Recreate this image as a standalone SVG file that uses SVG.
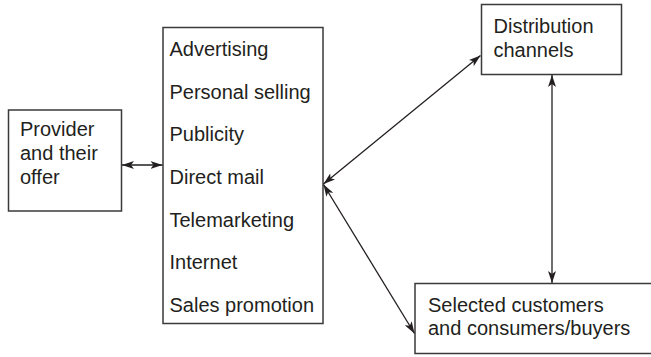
<svg xmlns="http://www.w3.org/2000/svg" width="651" height="357" viewBox="0 0 651 357">
  <style>
    .box { fill: #ffffff; stroke: #3a3a3a; stroke-width: 1.5; }
    .lbl { font-family: "Liberation Sans", Arial, sans-serif; font-size: 20px; fill: #231f20; }
    .conn { stroke: #231f20; stroke-width: 1.3; fill: none; marker-start: url(#ah); marker-end: url(#ah); }
  </style>
  <defs>
    <marker id="ah" viewBox="0 0 12 8" refX="12" refY="4" markerWidth="12" markerHeight="8" markerUnits="userSpaceOnUse" orient="auto-start-reverse">
      <path d="M0,0 L12,4 L0,8 L3,4 Z" fill="#231f20"/>
    </marker>
  </defs>
  <rect width="651" height="357" fill="#ffffff"/>

  <g id="provider">
    <rect class="box" x="8.5" y="110" width="113" height="101"/>
    <text class="lbl" x="20" y="136">Provider</text>
    <text class="lbl" x="20" y="160">and their</text>
    <text class="lbl" x="20" y="183.5">offer</text>
  </g>

  <g id="methods">
    <rect class="box" x="163" y="27.5" width="160" height="296"/>
    <text class="lbl" x="169.5" y="56">Advertising</text>
    <text class="lbl" x="169.5" y="98.7">Personal selling</text>
    <text class="lbl" x="169.5" y="141.3">Publicity</text>
    <text class="lbl" x="169.5" y="184">Direct mail</text>
    <text class="lbl" x="169.5" y="226.7">Telemarketing</text>
    <text class="lbl" x="169.5" y="269.3">Internet</text>
    <text class="lbl" x="169.5" y="312">Sales promotion</text>
  </g>

  <g id="distribution">
    <rect class="box" x="481.5" y="4.5" width="140" height="70"/>
    <text class="lbl" x="493.5" y="33">Distribution</text>
    <text class="lbl" x="493.5" y="57">channels</text>
  </g>

  <g id="customers">
    <rect class="box" x="415" y="283.5" width="245" height="70"/>
    <text class="lbl" x="428" y="311.5">Selected customers</text>
    <text class="lbl" x="428" y="335">and consumers/buyers</text>
  </g>

  <g id="connectors">
    <line class="conn" x1="122" y1="165" x2="162.5" y2="165"/>
    <line class="conn" x1="323.5" y1="184" x2="480.5" y2="55.5"/>
    <line class="conn" x1="323.5" y1="184.5" x2="414.5" y2="333.5"/>
    <line class="conn" x1="552" y1="75" x2="552" y2="283"/>
  </g>
</svg>
